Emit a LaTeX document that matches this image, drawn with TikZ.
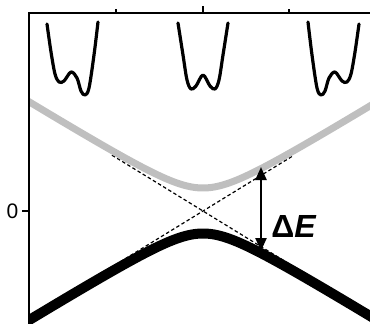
\documentclass[tikz,border=0pt]{standalone}
\usepackage{fontspec}
\setmainfont{Liberation Sans}
\usetikzlibrary{arrows.meta}
\begin{document}
\begin{tikzpicture}[x=1pt,y=-1pt,
  axis/.style={line width=2.2pt, line cap=rect},
  tick/.style={line width=1.4pt},
  well/.style={line width=3.2pt, line join=round, line cap=round},
  diab/.style={line width=1.2pt, dash pattern=on 3.5pt off 2.5pt},
  upper/.style={line width=7pt, color=black!25},
  lower/.style={line width=10pt, color=black},
  gap/.style={line width=2.4pt, -{Triangle[length=13pt,width=11pt]}},
  lab/.style={inner sep=0pt}]
\useasboundingbox (0,0) rectangle (370,324);
% diabatic crossing lines
\coordinate (d1a) at (112,155.2);
\coordinate (d1b) at (291,265.0);
\coordinate (d2a) at (115,265.0);
\coordinate (d2b) at (294,155.2);
\draw[diab] (d1a) -- (d1b);
\draw[diab] (d2a) -- (d2b);
% adiabatic curves
\begin{scope}
\clip (30,13) rectangle (372,326);
\draw[upper] plot[domain=20:380, samples=120] (\x,{211-sqrt((0.614*(\x-203))^2+529)});
\draw[lower] plot[domain=20:380, samples=120] (\x,{211+sqrt((0.614*(\x-203))^2+506)});
\end{scope}
% energy gap arrow
\coordinate (gmid) at (261,210);
\coordinate (gtop) at (261,167);
\coordinate (gbot) at (261,251);
\draw[gap] (gmid) -- (gtop);
\draw[gap] (gmid) -- (gbot);
\node[lab, font=\fontsize{32}{32}\selectfont\bfseries] (dE) at (294,226) {Δ\textit{E}};
% axes
\coordinate (o) at (29,13);
\coordinate (xe) at (370,13);
\coordinate (ye) at (29,324);
\draw[axis] (xe) -- (o) -- (ye);
\coordinate (t1) at (116,13); \coordinate (t1e) at (116,9);
\coordinate (t2) at (203,13); \coordinate (t2e) at (203,6);
\coordinate (t3) at (289,13); \coordinate (t3e) at (289,9);
\draw[tick] (t1) -- (t1e);
\draw[tick] (t2) -- (t2e);
\draw[tick] (t3) -- (t3e);
\coordinate (z) at (29,211); \coordinate (ze) at (22,211);
\draw[tick] (z) -- (ze);
\node[lab, font=\fontsize{21}{21}\selectfont, anchor=east] (zero) at (18.5,211) {0};
% double-well potentials
\draw[well] plot[smooth, tension=0.55] coordinates {(47,24) (51,52) (55,74) (59,82) (64,81) (71,72) (77,78) (81,91) (85,95) (89,88) (94,55) (98,22)};
\draw[well] plot[smooth, tension=0.55] coordinates {(178,23) (183,55) (187,80) (191,89) (196,86) (203,75) (210,86) (215,89) (219,80) (223,55) (228,23)};
\draw[well] plot[smooth, tension=0.55] coordinates {(359,24) (355,52) (351,74) (347,82) (342,81) (335,72) (329,78) (325,91) (321,95) (317,88) (312,55) (308,22)};
\end{tikzpicture}
\end{document}
